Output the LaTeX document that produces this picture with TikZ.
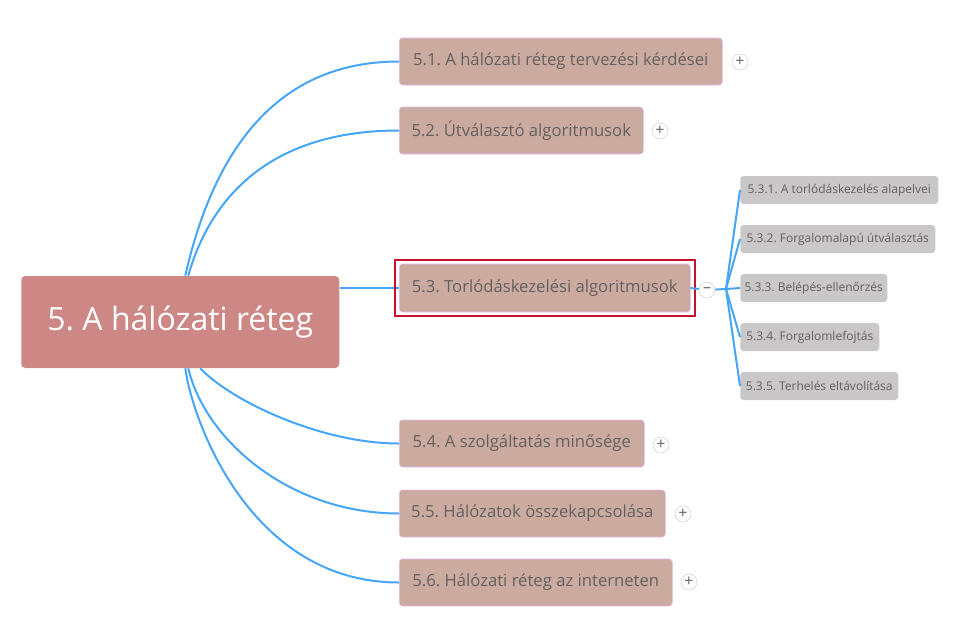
\documentclass[tikz,border=0pt]{standalone}
\usepackage{fontspec}
\setmainfont{Open Sans}
\frenchspacing
\definecolor{fopiros}{HTML}{CD8886}
\definecolor{temabarna}{HTML}{CBABA0}
\definecolor{temakeret}{HTML}{E2B6F2}
\definecolor{alszurke}{HTML}{C9C7C7}
\definecolor{szoveg}{HTML}{646060}
\definecolor{kek}{HTML}{45A5F7}
\definecolor{jelpiros}{HTML}{C8102E}

\begin{document}
\begin{tikzpicture}[x=0.75pt,y=-0.75pt,
    fotema/.style={fill=fopiros, rounded corners=3pt, text=white, anchor=west,
        inner sep=0pt, font=\fontsize{24}{28}\selectfont},
    tema/.style={fill=temabarna, draw=temakeret, rounded corners=2.5pt, text=szoveg,
        anchor=west, inner sep=0pt, font=\fontsize{12.5}{15}\selectfont},
    altema/.style={fill=alszurke, rounded corners=2.5pt, text=szoveg,
        anchor=west, inner sep=0pt, font=\fontsize{9}{11}\selectfont},
    vonal/.style={draw=kek, line width=1.5pt},
    nyit/.style={circle, fill=white, draw=black!18, minimum size=12pt, inner sep=0pt,
        text=black!60, font=\fontsize{12}{12}\selectfont},
    jelolt/.style={draw=jelpiros, line width=1.5pt}]
        % egyseg: 1 kep-pixel
        \newcommand{\egys}{0.75pt}
        \useasboundingbox (0,0) rectangle (958,637);

        % fo csomopont
        \node[fotema, minimum width=318*\egys, minimum height=92*\egys] (fo) at (21,322) {5. A hálózati réteg};

        % temak
        \node[tema, minimum width=323*\egys, minimum height=47*\egys] (t1) at (399,61.5) {5.1. A hálózati réteg tervezési kérdései};
        \node[tema, minimum width=244*\egys, minimum height=47*\egys] (t2) at (399,130.5) {5.2. Útválasztó algoritmusok};
        \node[tema, minimum width=291*\egys, minimum height=48*\egys] (t3) at (399,288) {5.3. Torlódáskezelési algoritmusok};
        \node[tema, minimum width=245*\egys, minimum height=47*\egys] (t4) at (399,443.5) {5.4. A szolgáltatás minősége};
        \node[tema, minimum width=266*\egys, minimum height=47*\egys] (t5) at (399,513.5) {5.5. Hálózatok összekapcsolása};
        \node[tema, minimum width=273*\egys, minimum height=47*\egys] (t6) at (399,582.5) {5.6. Hálózati réteg az interneten};

        % altemak
        \node[altema, minimum width=198*\egys, minimum height=28*\egys] (s1) at (740,190) {5.3.1. A torlódáskezelés alapelvei};
        \node[altema, minimum width=195*\egys, minimum height=28*\egys] (s2) at (740,239) {5.3.2. Forgalomalapú útválasztás};
        \node[altema, minimum width=147*\egys, minimum height=28*\egys] (s3) at (740,288) {5.3.3. Belépés-ellenőrzés};
        \node[altema, minimum width=139*\egys, minimum height=28*\egys] (s4) at (740,337) {5.3.4. Forgalomlefojtás};
        \node[altema, minimum width=158*\egys, minimum height=28*\egys] (s5) at (740,386) {5.3.5. Terhelés eltávolítása};

        % kapcsolatok
        \draw[vonal] ([xshift=3.75pt]fo.north) .. controls +(28,-123) and +(-124,0) .. (t1.west);
        \draw[vonal] ([xshift=6pt]fo.north) .. controls +(22,-78) and +(-129,0) .. (t2.west);
        \draw[vonal] (fo.east |- t3.west) -- (t3.west);
        \draw[vonal] ([xshift=15pt]fo.south) .. controls +(30,32) and +(-79,0) .. (t4.west);
        \draw[vonal] ([xshift=6pt]fo.south) .. controls +(17,72) and +(-109,0) .. (t5.west);
        \draw[vonal] ([xshift=3.75pt]fo.south) .. controls +(7,52) and +(-149,0) .. (t6.west);

        % kijelolt tema
        \draw[jelolt] ([shift={(-3pt,-3pt)}]t3.south west) rectangle ([shift={(3pt,3pt)}]t3.north east);

        % elagazas az altemakhoz
        \node[nyit] (zar) at (707,290) {--};
        \coordinate (elag) at (726,289);
        \draw[vonal] (t3.east) -- (zar);
        \draw[vonal] (zar) -- (elag);
        \draw[vonal] (elag) -- (s1.west);
        \draw[vonal] (elag) -- (s2.west);
        \draw[vonal] (elag) -- (s3.west);
        \draw[vonal] (elag) -- (s4.west);
        \draw[vonal] (elag) -- (s5.west);

        % plusz gombok
        \node[nyit] (p1) at (740,62) {+};
        \node[nyit] (p2) at (660,131) {+};
        \node[nyit] (p4) at (661,445) {+};
        \node[nyit] (p5) at (683,514) {+};
        \node[nyit] (p6) at (689,582) {+};
\end{tikzpicture}
\end{document}
